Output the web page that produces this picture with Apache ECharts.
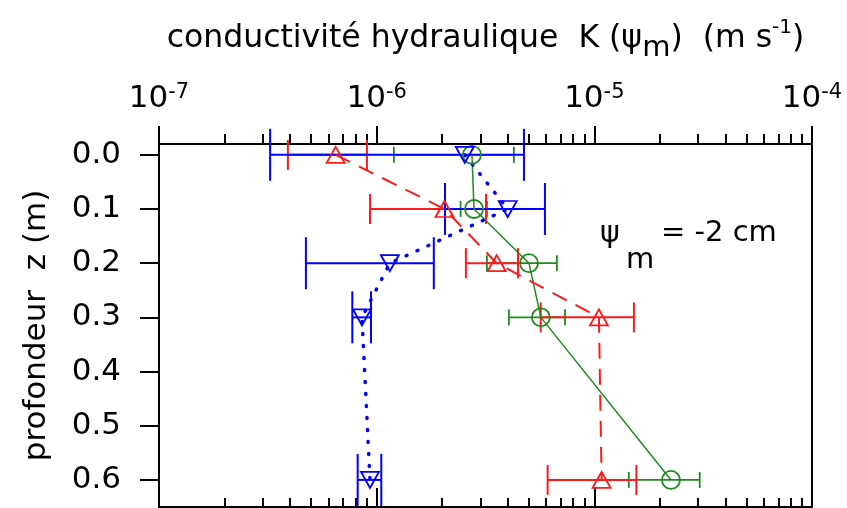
<!DOCTYPE html>
<html>
<head>
<meta charset="utf-8">
<script src="https://cdn.jsdelivr.net/npm/echarts@6/dist/echarts.min.js"></script>
<style>
  html, body { margin: 0; padding: 0; background: #fff; }
  #chart { width: 847px; height: 508px; }
</style>
</head>
<body>
<div id="chart"></div>
<script>
// depth of each measurement (m)
const depths = [0.0, 0.1, 0.2, 0.3, 0.6];

// K(psi_m) in m/s, with lower / upper error limits
const greenK    = [2.74e-6, 2.80e-6, 5.01e-6, 5.68e-6, 2.25e-5];
const greenLow  = [1.20e-6, 2.43e-6, 3.21e-6, 4.05e-6, 1.44e-5];
const greenHigh = [4.27e-6, 3.21e-6, 6.73e-6, 7.33e-6, 3.05e-5];

const redK    = [6.48e-7, 2.05e-6, 3.56e-6, 1.05e-5, 1.08e-5];
const redLow  = [3.91e-7, 9.32e-7, 2.57e-6, 5.67e-6, 6.10e-6];
const redHigh = [9.02e-7, 3.18e-6, 4.46e-6, 1.52e-5, 1.56e-5];

const blueK    = [2.54e-6, 4.00e-6, 1.15e-6, 8.56e-7, 9.32e-7];
const blueLow  = [3.24e-7, 2.06e-6, 4.73e-7, 7.73e-7, 8.18e-7];
const blueHigh = [4.75e-6, 5.93e-6, 1.83e-6, 9.42e-7, 1.05e-6];

// axis ticks
const depthTicks = [0, 0.1, 0.2, 0.3, 0.4, 0.5, 0.6];
const minorTicks = [
  2e-7, 3e-7, 4e-7, 5e-7, 6e-7, 7e-7, 8e-7, 9e-7,
  2e-6, 3e-6, 4e-6, 5e-6, 6e-6, 7e-6, 8e-6, 9e-6,
  2e-5, 3e-5, 4e-5, 5e-5, 6e-5, 7e-5, 8e-5, 9e-5
];

const GREEN = '#1f8a1f';
const RED = '#ff1a1a';
const BLUE = '#0000ff';
const FONT = 'DejaVu Sans, sans-serif';

const chart = echarts.init(document.getElementById('chart'));

const logAxis = (extra) => Object.assign({
  type: 'log',
  logBase: 10,
  min: 1e-7,
  max: 1e-4,
  gridIndex: 0,
  splitLine: { show: false },
  axisLine: { show: false, onZero: false },
  axisLabel: { show: false },
  axisTick: { show: false }
}, extra);

const errorBars = (lows, highs, color, half, width) => ({
  type: 'custom',
  xAxisIndex: 0,
  yAxisIndex: 0,
  clip: false,
  silent: true,
  z: 2,
  data: depths.map((z, i) => [lows[i], highs[i], z]),
  encode: { x: [0, 1], y: 2 },
  renderItem: (params, api) => {
    const a = api.coord([api.value(0), api.value(2)]);
    const b = api.coord([api.value(1), api.value(2)]);
    const style = { stroke: color, lineWidth: width };
    return {
      type: 'group',
      children: [
        { type: 'line', shape: { x1: a[0], y1: a[1], x2: b[0], y2: b[1] }, style },
        { type: 'line', shape: { x1: a[0], y1: a[1] - half, x2: a[0], y2: a[1] + half }, style },
        { type: 'line', shape: { x1: b[0], y1: b[1] - half, x2: b[0], y2: b[1] + half }, style }
      ]
    };
  }
});

const profile = (values, color, symbol, size, rotate, lineStyle) => ({
  type: 'line',
  xAxisIndex: 0,
  yAxisIndex: 0,
  data: depths.map((z, i) => [values[i], z]),
  symbol,
  symbolSize: size,
  symbolRotate: rotate,
  clip: false,
  silent: true,
  z: 3,
  lineStyle: Object.assign({ color }, lineStyle),
  itemStyle: { color: 'rgba(0,0,0,0)', borderColor: color, borderWidth: 1.8 }
});

chart.setOption({
  animation: false,
  backgroundColor: '#fff',
  textStyle: { fontFamily: FONT, color: '#000' },
  grid: {
    left: 159, right: 35, top: 144, bottom: 1,
    show: true, borderColor: '#000', borderWidth: 2,
    containLabel: false
  },
  xAxis: [
    logAxis({
      position: 'top',
      axisLine: { show: true, onZero: false, lineStyle: { color: '#000', width: 2 } },
      axisTick: { show: true, length: 18, lineStyle: { color: '#000', width: 2 } },
      axisLabel: {
        show: true,
        margin: 41,
        formatter: (v) => '{a|10}{b|' + Math.round(Math.log10(v)) + '}',
        rich: {
          a: { fontFamily: FONT, fontSize: 31, lineHeight: 31, padding: [11, 0, 0, 0], verticalAlign: 'top', color: '#000' },
          b: { fontFamily: FONT, fontSize: 21, lineHeight: 21, padding: [10, 0, 0, 0], verticalAlign: 'top', color: '#000' }
        }
      },
      name: '{t|conductivité hydraulique  K (ψ}{sub|m}{t|)  (m s}{sup|-1}{t|)}',
      nameLocation: 'middle',
      nameGap: 104,
      nameTextStyle: {
        rich: {
          t: { fontFamily: FONT, fontSize: 31.5, lineHeight: 31, padding: [14, 0, 10, 0], verticalAlign: 'top', color: '#000' },
          sub: { fontFamily: FONT, fontSize: 29, lineHeight: 29, padding: [25, 0, 0, 0], verticalAlign: 'top', color: '#000' },
          sup: { fontFamily: FONT, fontSize: 20, lineHeight: 20, padding: [9, 0, 0, 0], verticalAlign: 'top', color: '#000' }
        }
      }
    }),
    logAxis({
      position: 'top',
      axisTick: { show: true, length: 10, customValues: minorTicks, lineStyle: { color: '#000', width: 2 } }
    }),
    logAxis({
      position: 'bottom',
      axisLine: { show: true, onZero: false, lineStyle: { color: '#000', width: 2 } },
      axisTick: { show: true, inside: true, length: 19, lineStyle: { color: '#000', width: 2 } }
    }),
    logAxis({
      position: 'bottom',
      axisTick: { show: true, inside: true, length: 9, customValues: minorTicks, lineStyle: { color: '#000', width: 2 } }
    })
  ],
  yAxis: [{
    type: 'value',
    inverse: true,
    min: -0.02,
    max: 0.65,
    position: 'left',
    splitLine: { show: false },
    axisLine: { show: true, onZero: false, lineStyle: { color: '#000', width: 2 } },
    axisTick: { show: true, length: 19, customValues: depthTicks, lineStyle: { color: '#000', width: 2 } },
    axisLabel: {
      margin: 38,
      customValues: depthTicks,
      formatter: (v) => v.toFixed(1),
      fontFamily: FONT, fontSize: 31, color: '#000'
    },
    name: 'profondeur  z (m)',
    nameLocation: 'middle',
    nameGap: 107,
    nameTextStyle: { fontFamily: FONT, fontSize: 31, color: '#000' }
  }],
  graphic: [
    { type: 'text', left: 600, top: 219, silent: true,
      style: { text: 'ψ', font: '30px ' + FONT, fill: '#000' } },
    { type: 'text', left: 626, top: 246, silent: true,
      style: { text: 'm', font: '29px ' + FONT, fill: '#000' } },
    { type: 'text', left: 661, top: 219, silent: true,
      style: { text: '= -2 cm', font: '29px ' + FONT, fill: '#000' } }
  ],
  series: [
    errorBars(greenLow, greenHigh, GREEN, 8, 1.8),
    errorBars(redLow, redHigh, RED, 15, 2),
    errorBars(blueLow, blueHigh, BLUE, 26, 2),
    profile(greenK, GREEN, 'circle', 18, 0, { width: 1.5, type: 'solid' }),
    profile(redK, RED, 'triangle', [18, 16], 0, { width: 2, type: [16, 10] }),
    profile(blueK, BLUE, 'triangle', [18, 16], 180, { width: 3.5, type: [1, 11], cap: 'round' })
  ]
});
</script>
</body>
</html>
